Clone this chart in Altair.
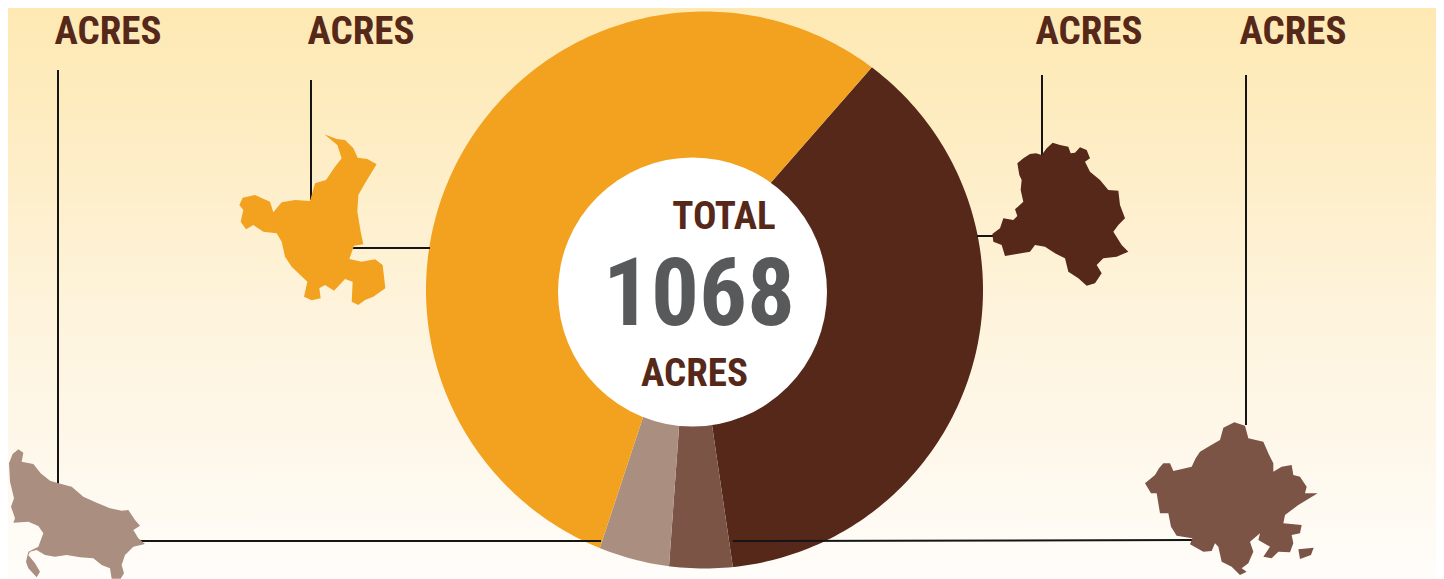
import math
import altair as alt
import pandas as pd

# --- values ----------------------------------------------------------------
slice_names = ["Delhi", "Rajasthan", "Uttar Pradesh", "Haryana"]
slice_values = [387, 37, 42, 602]
slice_colors = ["#55281A", "#7C5446", "#AA8E80", "#F2A21F"]

W, H = 1428, 571
ORIGIN = 8
TOTAL_LABEL = "1068"

haryana = [(283,28),(320,42),(345,45),(370,70),(383,98),(412,102),(440,118),(420,150),(405,175),(385,210),(382,260),(392,320),(400,358),(372,362),(358,402),(395,410),(435,403),(458,420),(466,490),(430,515),(405,525),(385,540),(365,530),(368,470),(345,462),(312,497),(285,480),(268,490),(272,520),(245,526),(222,515),(232,470),(185,425),(165,395),(155,350),(140,325),(100,320),(70,300),(48,313),(32,290),(40,255),(28,240),(38,218),(75,210),(120,230),(130,262),(155,232),(195,225),(240,228),(255,175),(288,165),(315,125),(335,100),(322,60)]
delhi = [(37,312),(60,295),(70,265),(100,270),(112,258),(105,238),(130,215),(122,180),(125,150),(118,135),(112,100),(130,85),(150,72),(168,70),(185,75),(200,55),(218,38),(240,45),(265,50),(272,70),(285,68),(300,52),(320,60),(330,85),(315,95),(330,125),(360,150),(385,180),(415,182),(420,225),(435,265),(415,285),(400,305),(425,345),(445,365),(410,380),(370,385),(350,405),(365,430),(345,460),(320,467),(295,445),(265,425),(255,385),(225,370),(195,350),(165,345),(150,365),(110,372),(75,378),(65,345),(40,335)]
up = [(55,28),(70,38),(65,65),(100,72),(122,100),(150,122),(175,130),(215,140),(250,170),(290,188),(330,205),(365,212),(385,210),(405,240),(420,257),(400,270),(415,295),(435,312),(400,320),(375,345),(365,375),(372,400),(362,416),(335,416),(330,385),(305,375),(280,355),(240,352),(200,345),(165,350),(135,345),(110,330),(90,335),(85,345),(105,370),(120,395),(110,412),(85,385),(78,365),(85,335),(115,320),(130,280),(115,258),(85,245),(40,248),(45,235),(33,200),(42,175),(30,125),(27,70),(38,42)]
rajasthan = [(30,205),(60,180),(72,160),(85,145),(105,145),(115,168),(170,155),(182,130),(195,110),(225,92),(255,75),(265,38),(298,22),(330,32),(340,70),(385,80),(400,115),(415,145),(415,170),(440,155),(470,150),(475,180),(495,185),(515,215),(510,235),(548,235),(490,270),(450,300),(445,325),(500,330),(495,355),(470,360),(475,385),(465,412),(430,410),(410,430),(385,425),(405,395),(370,375),(375,355),(345,380),(355,410),(340,445),(320,460),(335,470),(315,480),(290,455),(260,440),(250,395),(240,385),(230,408),(205,410),(165,388),(172,370),(125,362),(108,335),(100,295),(75,295),(65,235),(48,235)]
rajasthan_island = [(490,403),(536,398),(528,420),(495,432)]

segments = pd.DataFrame({
    "x":  [58, 58, 311, 352, 1042, 977, 1246, 733],
    "x2": [58, 601, 311, 430, 1042, 995, 1246, 1192],
    "y":  [70, 541, 80, 248, 75, 236, 75, 541],
    "y2": [485, 541, 200, 248, 158, 236, 425, 540],
})
labels = pd.DataFrame({
    "t": ["ACRES", "ACRES", "ACRES", "ACRES", "TOTAL", "ACRES"],
    "x": [108, 361, 1089, 1293, 724, 694.5],
    "y": [32, 32, 32, 32, 217, 374],
})

sx = alt.Scale(domain=[ORIGIN, ORIGIN + W], range=[0, W], nice=False, zero=False)
sy = alt.Scale(domain=[ORIGIN + H, ORIGIN], range=[H, 0], nice=False, zero=False)
X = lambda f: alt.X(f, scale=sx, axis=None)
Y = lambda f: alt.Y(f, scale=sy, axis=None)
PROJ = dict(type="identity", scale=1, translate=[-ORIGIN, -ORIGIN])


def trace(points, ox, oy):
    ring = [[ox + a / 3, oy + b / 3] for a, b in points]
    ring.append(ring[0])
    return ring


def shape(rings, color):
    feature = {"type": "Feature", "properties": {},
               "geometry": {"type": "MultiPolygon", "coordinates": [[r] for r in rings]}}
    return alt.Chart(alt.Data(values=[feature])).mark_geoshape(
        fill=color, strokeWidth=0).project(**PROJ)


# slices: wedges meet off-centre, the round outline comes from the background window
start = 41.2 * math.pi / 180
cum = pd.Series(slice_values).cumsum()
pie = pd.DataFrame({
    "name": slice_names, "a": [0] + cum.tolist()[:-1], "b": cum.tolist(),
    "cx": 690, "cy": 275,
})
slices = alt.Chart(pie).mark_arc(outerRadius=302).encode(
    x=X("cx:Q"), y=Y("cy:Q"),
    theta=alt.Theta("a:Q", scale=alt.Scale(domain=[0, sum(slice_values)],
                                            range=[start, start + 2 * math.pi])),
    theta2="b:Q",
    color=alt.Color("name:N", scale=alt.Scale(domain=slice_names, range=slice_colors), legend=None),
)

# page background, a rectangle with the pie's round window cut out of it
TOP, BOTTOM, LEFT, RIGHT = -40, 619, 0, 1444
outer = [[LEFT, TOP], [RIGHT, TOP], [RIGHT, BOTTOM], [LEFT, BOTTOM], [LEFT, TOP]]
cxp, cyp, rp = 704.5, 290, 278.5
hole = [[cxp + rp * math.cos(2 * math.pi * i / 360), cyp - rp * math.sin(2 * math.pi * i / 360)] for i in range(361)]
bg_feature = {"type": "Feature", "properties": {},
              "geometry": {"type": "Polygon", "coordinates": [outer, hole]}}
bg_y = [8, 150, 320, 460, 579]
bg_c = ["#FEE9B3", "#FEEDC5", "#FEF4DD", "#FEF8EC", "#FFFDFA"]
gradient = alt.LinearGradient(
    gradient="linear", x1=0, y1=0, x2=0, y2=1,
    stops=[alt.GradientStop(offset=(y - TOP) / (BOTTOM - TOP), color=c) for y, c in zip(bg_y, bg_c)],
)
background = alt.Chart(alt.Data(values=[bg_feature])).mark_geoshape(
    fill=gradient, strokeWidth=0).project(**PROJ)

lines = alt.Chart(segments).mark_rule(color="#151515", strokeWidth=2).encode(
    x=X("x:Q"), x2="x2:Q", y=Y("y:Q"), y2="y2:Q")

circle = alt.Chart(pd.DataFrame({"x": [692.5], "y": [292]})).mark_circle(
    size=269 ** 2, color="white", opacity=1).encode(x=X("x:Q"), y=Y("y:Q"))

FONT = "Roboto Condensed, Roboto"
texts = alt.Chart(labels).mark_text(
    font=FONT, fontWeight="bold", fontSize=39, color="#55281A", align="center", baseline="middle"
).encode(x=X("x:Q"), y=Y("y:Q"), text="t:N")
big = alt.Chart(pd.DataFrame({"x": [699], "y": [296], "t": [TOTAL_LABEL]})).mark_text(
    font=FONT, fontWeight="bold", fontSize=95, color="#58595B", align="center", baseline="middle"
).encode(x=X("x:Q"), y=Y("y:Q"), text="t:N")

states = [
    shape([trace(haryana, 230, 125)], "#F2A21F"),
    shape([trace(delhi, 980, 130)], "#55281A"),
    shape([trace(up, 0, 440)], "#AA8E80"),
    shape([trace(rajasthan, 1135, 415), trace(rajasthan_island, 1135, 415)], "#7C5446"),
]

chart = alt.layer(slices, background, lines, *states, circle, texts, big).properties(
    width=W, height=H, padding=0, autosize=alt.AutoSizeParams(type="none"),
).configure_view(stroke=None)

chart.save("out.html", embed_options={"renderer": "svg", "actions": False})
